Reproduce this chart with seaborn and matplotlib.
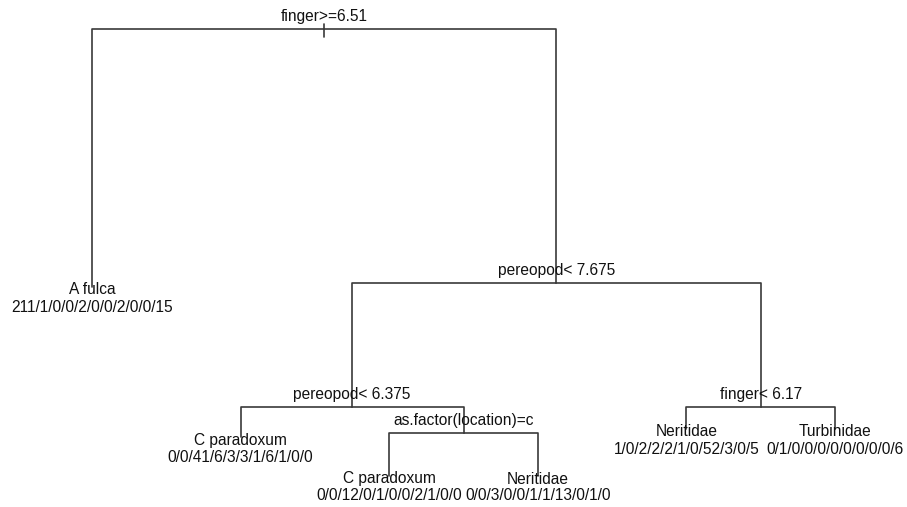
import matplotlib
matplotlib.use("Agg")
import matplotlib.pyplot as plt
import seaborn as sns
import pandas as pd

# ---- data (rpart classification tree) ----
split_labels = ["finger>=6.51", "pereopod< 7.675", "pereopod< 6.375",
                "as.factor(location)=c", "finger< 6.17"]
# internal nodes: (left child, right child); children are "n<i>" internal or "l<j>" leaf
split_children = [("l0", "n1"), ("n2", "n4"), ("l1", "n3"), ("l2", "l3"), ("l4", "l5")]
split_depth = [29, 283, 407, 433, 407]            # vertical position of each split (from top)

leaf_classes = ["A fulca", "C paradoxum", "C paradoxum", "Neritidae", "Neritidae", "Turbinidae"]
leaf_counts = ["211/1/0/0/2/0/0/2/0/0/15", "0/0/41/6/3/3/1/6/1/0/0",
               "0/0/12/0/1/0/0/2/1/0/0", "0/0/3/0/0/1/1/13/0/1/0",
               "1/0/2/2/2/1/0/52/3/0/5", "0/1/0/0/0/0/0/0/0/0/6"]
leaf_depth = [287, 437, 476, 476, 429, 429]       # vertical position of each leaf (from top)

# ---- layout: leaves evenly spaced, internal nodes at midpoint of children ----
leaf_x = list(range(1, len(leaf_classes) + 1))
node_x = {}
def pos(key):
    if key.startswith("l"):
        i = int(key[1:])
        return leaf_x[i], leaf_depth[i]
    i = int(key[1:])
    if key not in node_x:
        a = pos(split_children[i][0])[0]
        b = pos(split_children[i][1])[0]
        node_x[key] = (a + b) / 2
    return node_x[key], split_depth[i]

rows = []
seg = 0
for i, (lc, rc) in enumerate(split_children):
    xp, yp = pos(f"n{i}")
    for c in (lc, rc):
        xc, yc = pos(c)
        for (x, y) in [(xc, yc), (xc, yp), (xp, yp)]:
            rows.append({"seg": seg, "x": x, "y": y})
        seg += 1
# root stub
xr, yr = pos("n0")
rows.append({"seg": seg, "x": xr, "y": yr - 5})
rows.append({"seg": seg, "x": xr, "y": yr + 8})
df = pd.DataFrame(rows)

sns.set_theme(style="white")
plt.rcParams["font.family"] = ["Liberation Sans", "DejaVu Sans"]

fig = plt.figure(figsize=(9.07, 5.07), dpi=100)
ax = fig.add_axes([0, 0, 1, 1])
sns.lineplot(data=df, x="x", y="y", units="seg", estimator=None, sort=False,
             color="#3a3a3a", linewidth=1.2, ax=ax, legend=False)

fs = 11.2
tc = "#111111"
for i, lab in enumerate(split_labels):
    x, y = pos(f"n{i}")
    ax.text(x, y - 13, lab, ha="center", va="center", fontsize=fs, color=tc)
for i, (cls, cnt) in enumerate(zip(leaf_classes, leaf_counts)):
    x, y = pos(f"l{i}")
    ax.text(x, y + 3, cls, ha="center", va="center", fontsize=fs, color=tc)
    ax.text(x, y + 20, cnt, ha="center", va="center", fontsize=fs, color=tc)

spacing = 148.6
ax.set_xlim(1 - 92 / spacing, 1 + (907 - 92) / spacing)
ax.set_ylim(507, 0)
ax.set_axis_off()
fig.savefig("out.png", dpi=100)
